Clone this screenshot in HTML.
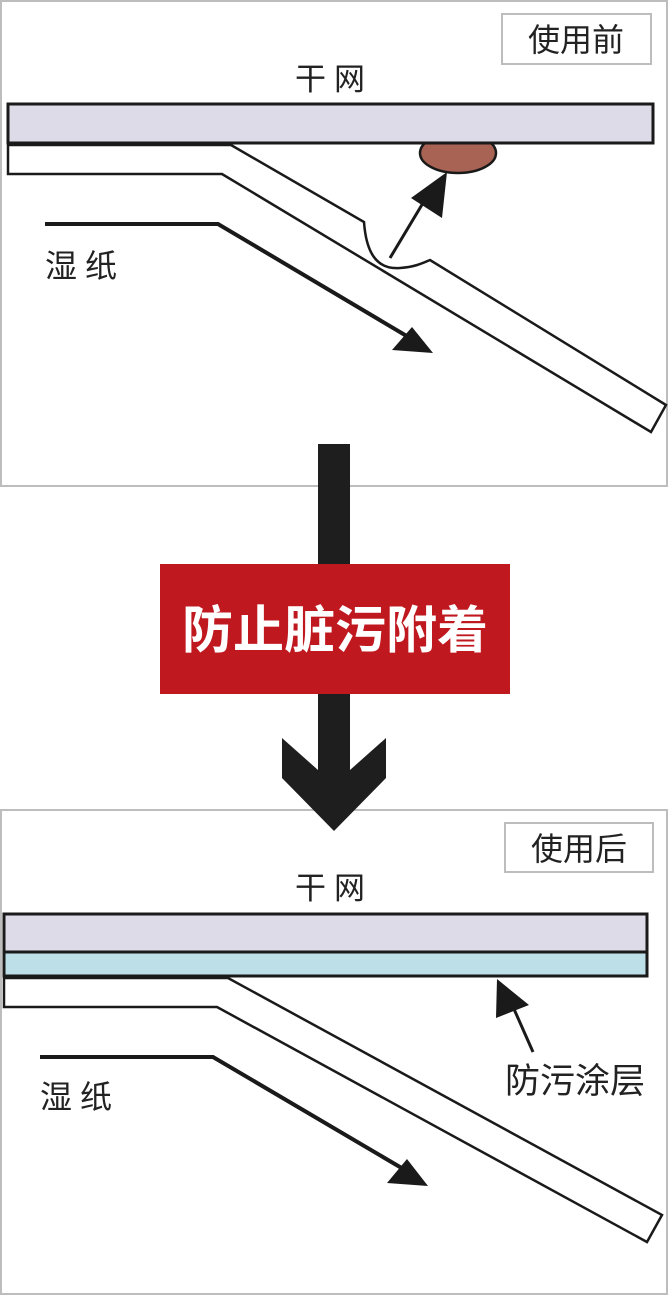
<!DOCTYPE html>
<html><head><meta charset="utf-8"><style>
html,body{margin:0;padding:0;background:#fff;}
svg{display:block;}
text{font-family:"Liberation Sans","Noto Sans CJK SC",sans-serif;}
</style></head><body>
<svg width="669" height="1296" viewBox="0 0 669 1296" xmlns="http://www.w3.org/2000/svg">
<!-- top panel -->
<rect x="1" y="1" width="666" height="485" fill="#fff" stroke="#bdbdbd" stroke-width="2"/>
<rect x="502" y="14" width="149" height="50" fill="#fff" stroke="#bdbdbd" stroke-width="2"/>
<text x="576" y="51" font-size="32" text-anchor="middle" fill="#222">使用前</text>
<text x="334" y="90" font-size="31" text-anchor="middle" fill="#222" letter-spacing="8">干网</text>
<ellipse cx="458" cy="153" rx="38" ry="20" fill="#a96354" stroke="#1a1a1a" stroke-width="2.5"/>
<rect x="8" y="104" width="645" height="39" fill="#dcdbe7" stroke="#1a1a1a" stroke-width="3"/>
<path d="M8,145 L231,145 L364,222 C366,250 375,270 400,268 C415,267 423,263 430,260 L666,405 L651,432 L222,174 L8,174 Z" fill="#fff" stroke="#1a1a1a" stroke-width="2.5"/>
<line x1="390" y1="258" x2="432" y2="188" stroke="#1a1a1a" stroke-width="3"/>
<polygon points="447,172 442,218 411,198" fill="#1a1a1a"/>
<path d="M45,224 L218,224 L410,338" fill="none" stroke="#1a1a1a" stroke-width="4"/>
<polygon points="433,353 392,350 412,327" fill="#1a1a1a"/>
<text x="45" y="277" font-size="32" fill="#222" letter-spacing="8">湿纸</text>

<!-- bottom panel -->
<rect x="1" y="810" width="666" height="484" fill="#fff" stroke="#bdbdbd" stroke-width="2"/>
<rect x="505" y="823" width="148" height="49" fill="#fff" stroke="#bdbdbd" stroke-width="2"/>
<text x="579" y="860" font-size="32" text-anchor="middle" fill="#222">使用后</text>
<text x="334" y="899" font-size="31" text-anchor="middle" fill="#222" letter-spacing="8">干网</text>
<rect x="4" y="914" width="643" height="38" fill="#dcdbe7" stroke="#1a1a1a" stroke-width="3"/>
<rect x="4" y="952" width="643" height="24" fill="#bde0e8" stroke="#1a1a1a" stroke-width="3"/>
<path d="M4,978 L228,978 L662,1215 L647,1242 L217,1007 L4,1007 Z" fill="#fff" stroke="#1a1a1a" stroke-width="2.5"/>
<line x1="533" y1="1052" x2="510" y2="1000" stroke="#1a1a1a" stroke-width="3"/>
<polygon points="497,979 529,1005 496,1018" fill="#1a1a1a"/>
<path d="M40,1057 L213,1057 L405,1170" fill="none" stroke="#1a1a1a" stroke-width="4"/>
<polygon points="428,1186 387,1183 407,1159" fill="#1a1a1a"/>
<text x="40" y="1108" font-size="32" fill="#222" letter-spacing="8">湿纸</text>
<text x="505" y="1093" font-size="35" fill="#222">防污涂层</text>

<!-- middle -->
<polygon points="318,444 350,444 350,770 386,738 386,778 334,831 282,778 282,738 318,770" fill="#1e1e1e"/>
<rect x="160" y="564" width="350" height="130" fill="#c0181f"/>
<text x="335" y="648" font-size="51" font-weight="bold" text-anchor="middle" fill="#fff">防止脏污附着</text>
</svg>
</body></html>
